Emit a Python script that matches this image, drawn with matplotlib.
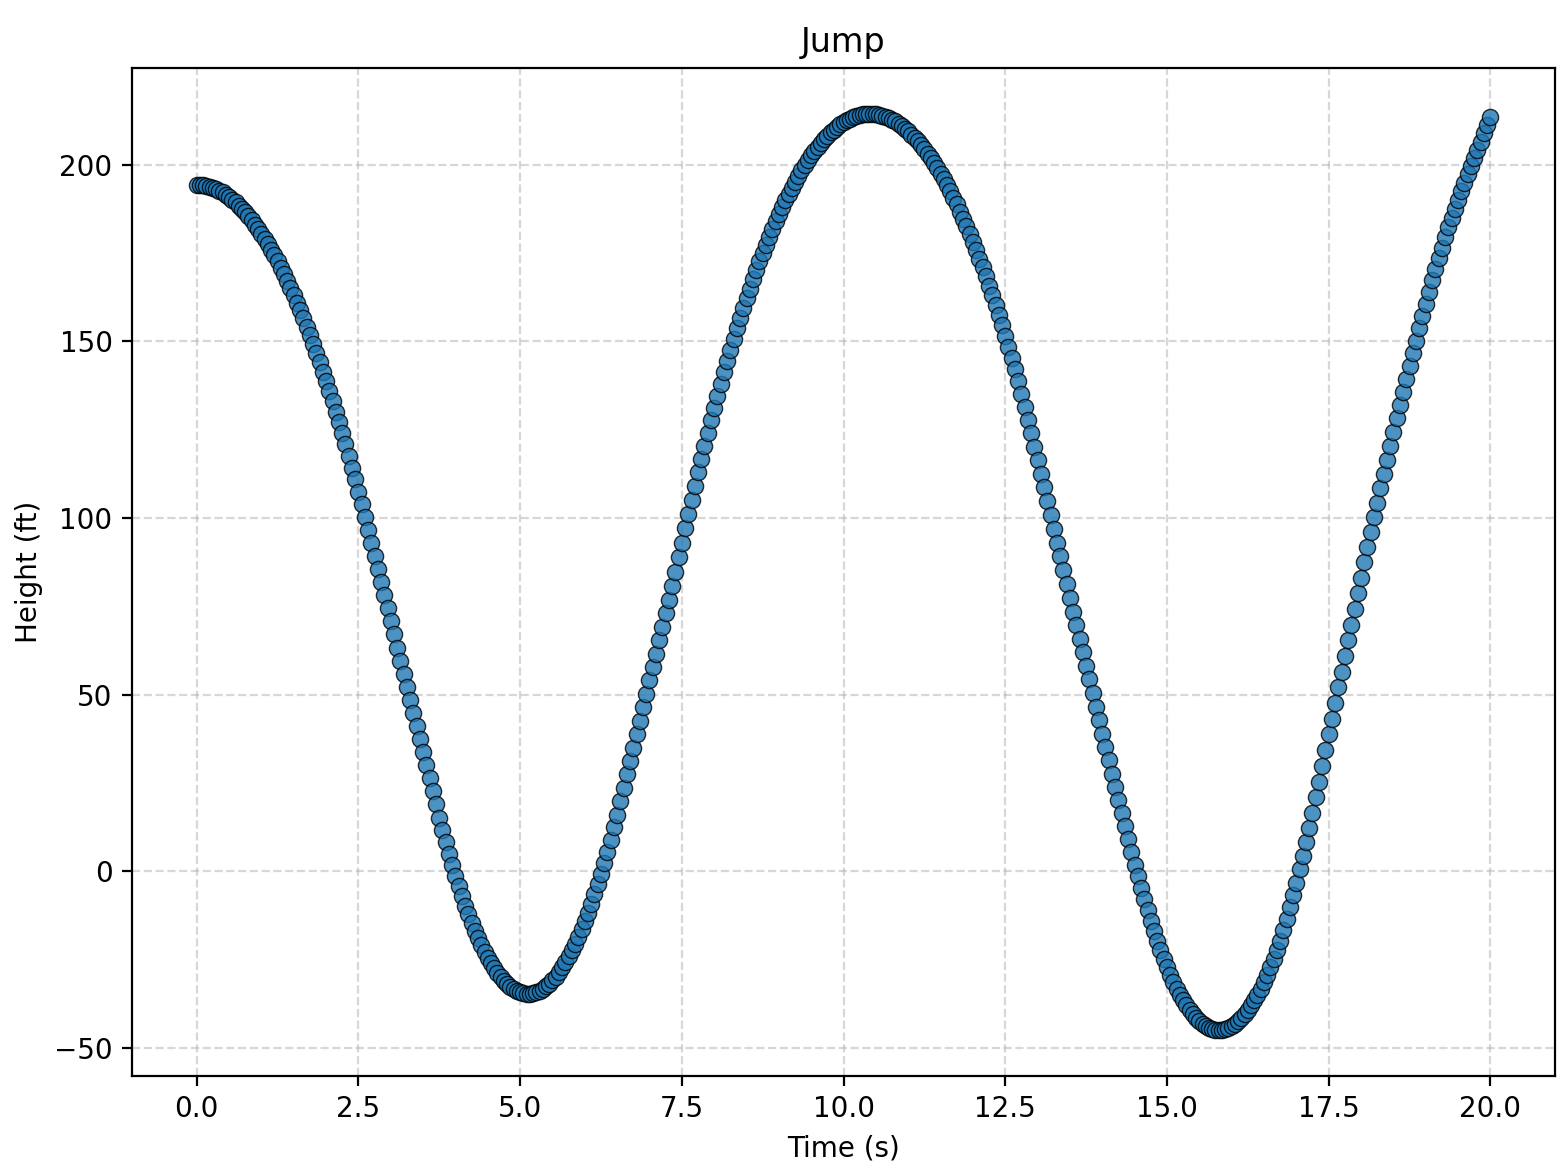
import numpy as np
import matplotlib
matplotlib.use("Agg")
import matplotlib.pyplot as plt

# ---- data ----
t_step = 0.05  # seconds between samples

height_0_5 = [
    194.3, 194.3, 194.2, 194.0, 193.7, 193.4, 193.0, 192.6, 192.1, 191.5,
    190.8, 190.1, 189.3, 188.4, 187.5, 186.5, 185.4, 184.3, 183.0, 181.8,
    180.4, 179.0, 177.5, 175.9, 174.3, 172.6, 170.8, 169.0, 167.1, 165.1,
    163.0, 160.9, 158.7, 156.5, 154.1, 151.7, 149.3, 146.7, 144.1, 141.4,
    138.7, 135.9, 133.0, 130.0, 127.0, 123.9, 120.8, 117.5, 114.2, 110.9,
    107.4, 103.9, 100.3, 96.7, 93.0,
    89.2, 85.5, 81.8, 78.1, 74.4, 70.7, 67.0, 63.3, 59.6, 55.9,
    52.2, 48.5, 44.8, 41.1, 37.4, 33.7, 30.0, 26.3, 22.6, 18.9, 15.2,
    11.6, 8.2, 4.9, 1.7, -1.3, -4.2, -7.0, -9.7, -12.2, -14.6,
    -16.8, -18.9, -20.9, -22.8, -24.5, -26.1, -27.5, -28.8, -30.0, -31.1,
    -32.0, -32.8, -33.4, -33.9, -34.3,
]

height_5_10 = [
    -34.6, -34.7, -34.7, -34.5, -34.2, -33.8, -33.3, -32.6, -31.8, -30.9,
    -29.8, -28.6, -27.2, -25.8, -24.1, -22.4, -20.5, -18.5, -16.4, -14.1,
    -11.7, -9.2, -6.5, -3.7, -0.7, 2.3, 5.5, 8.9, 12.4, 16.0,
    19.8, 23.6, 27.4, 31.2, 35.0, 38.8, 42.6, 46.4, 50.2, 54.0,
    57.8, 61.6, 65.4, 69.2, 73.0, 76.8, 80.7, 84.7, 88.8, 92.9,
    97.0, 101.1, 105.1, 109.0, 112.9, 116.7, 120.4, 124.0, 127.6, 131.1,
    134.6, 137.9, 141.2, 144.4, 147.6, 150.6, 153.6, 156.5, 159.4, 162.2,
    164.9, 167.5, 170.1, 172.6, 175.0, 177.3, 179.6, 181.8, 183.9, 186.0,
    188.0, 189.9, 191.7, 193.5, 195.2, 196.8, 198.4, 199.9, 201.3, 202.6,
    203.9, 205.1, 206.2, 207.2, 208.2, 209.1, 209.9, 210.7, 211.4, 212.0,
]

height_10_15 = [
    212.5, 213.0, 213.4, 213.7, 214.0, 214.2, 214.3, 214.3, 214.3, 214.2,
    214.1, 213.8, 213.5, 213.2, 212.7, 212.2, 211.6, 211.0, 210.2, 209.4,
    208.5, 207.6, 206.6, 205.5, 204.3, 203.1, 201.8, 200.4, 198.9, 197.4,
    195.8, 194.1, 192.4, 190.5, 188.7, 186.7, 184.7, 182.5, 180.4, 178.1,
    175.8, 173.4, 170.9, 168.4, 165.7, 163.1, 160.3, 157.5, 154.5, 151.6,
    148.5, 145.3, 142.0, 138.6, 135.1, 131.5, 127.8, 124.0, 120.2, 116.4,
    112.5, 108.6, 104.7, 100.8, 96.9, 93.0, 89.1, 85.2, 81.3, 77.4,
    73.5, 69.7, 65.8, 62.0, 58.1, 54.3, 50.4, 46.6, 42.7, 38.9,
    35.1, 31.4, 27.6, 23.9, 20.1, 16.5, 12.8, 9.2, 5.5, 1.9,
    -1.3, -4.7, -8.0, -11.1, -14.1, -17.0, -19.7, -22.3, -24.8, -27.1,
]

height_15_20 = [
    -29.3, -31.3, -33.2, -34.9, -36.5, -38.0, -39.3, -40.5, -41.6, -42.5,
    -43.3, -43.9, -44.4, -44.7, -44.9, -45.0, -44.9, -44.7, -44.4, -43.9,
    -43.3, -42.5, -41.6, -40.5, -39.3, -38.0, -36.5, -34.9, -33.2, -31.3,
    -29.3, -27.1, -24.8, -22.3, -19.7, -16.7, -13.5, -10.2, -6.8, -3.2,
    0.5, 4.3, 8.2, 12.3, 16.6, 20.9, 25.3, 29.8, 34.2, 38.7,
    43.1, 47.6, 52.0, 56.5, 60.9, 65.4, 69.8, 74.3, 78.7, 83.1,
    87.4, 91.7, 96.0, 100.2, 104.3, 108.4, 112.5, 116.5, 120.4, 124.3,
    128.2, 132.0, 135.7, 139.4, 143.1, 146.7, 150.2, 153.7, 157.2, 160.6,
    163.9, 167.2, 170.4, 173.5, 176.5, 179.4, 182.2, 184.9, 187.5, 190.0,
    192.5, 194.9, 197.2, 199.5, 201.8, 204.1, 206.5, 208.9, 211.2, 213.5,
]

height = np.array(height_0_5 + height_5_10 + height_10_15 + height_15_20)
time = t_step * np.arange(len(height))

title = "Jump"
x_label = "Time (s)"
y_label = "Height (ft)"

# ---- figure ----
fig = plt.figure(figsize=(7.83, 5.88), dpi=200)
ax = fig.add_axes([0.0843, 0.085, 0.9087, 0.857])
ax.set_axisbelow(True)
ax.grid(True, linestyle="--", alpha=0.5)
ax.scatter(time, height, s=34, color="#1f77b4", alpha=0.8,
           edgecolors="black", linewidths=0.5)
ax.set_title(title, fontsize=12)
ax.set_xlabel(x_label, fontsize=10)
ax.set_ylabel(y_label, fontsize=10)
ax.set_xticks(np.arange(0, 20.01, 2.5))
ax.set_yticks([-50, 0, 50, 100, 150, 200])

fig.savefig("out.png", dpi=200)
